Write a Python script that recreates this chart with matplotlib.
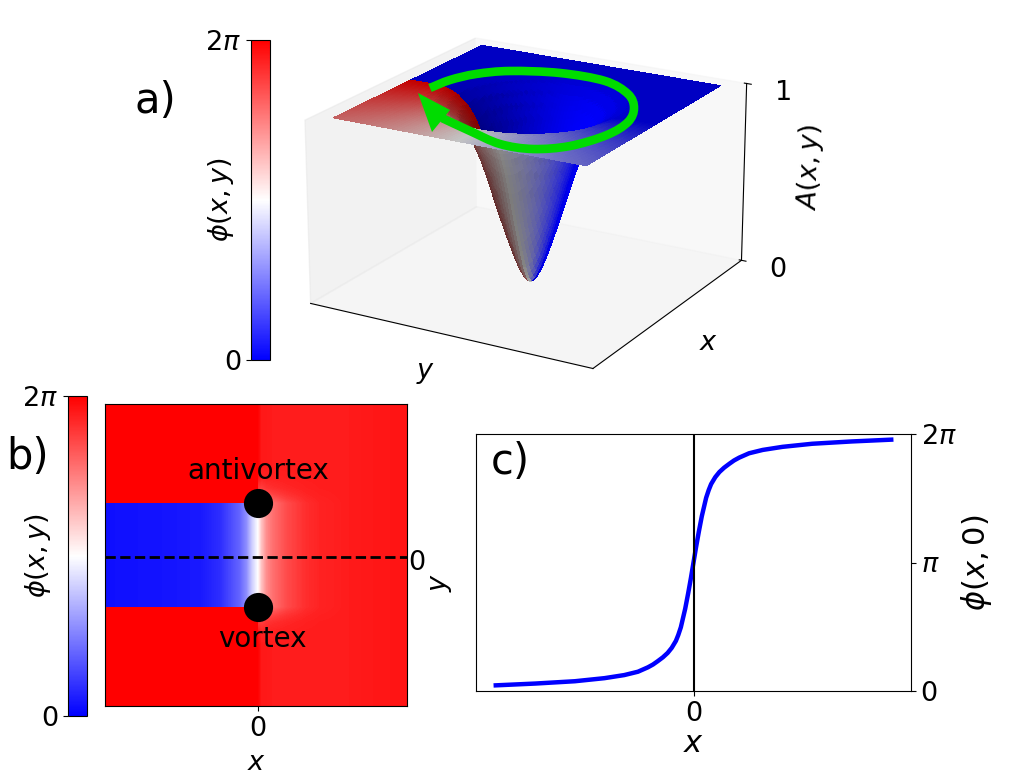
import numpy as np
import matplotlib
matplotlib.use("Agg")
import matplotlib.pyplot as plt
from matplotlib.cm import ScalarMappable
from matplotlib.colors import Normalize, LightSource
from matplotlib.path import Path
from matplotlib.patches import PathPatch

W, H = 1009, 775
TWO_PI = 2 * np.pi

# panel a: radial well profile and phase against direction
well_r = [0.0, 0.03, 0.06, 0.10, 0.14, 0.18, 0.22, 0.27, 0.31, 0.36, 0.41, 0.46, 0.52, 0.60, 0.68, 0.75, 1.5]
well_a = [0.0, 0.012, 0.045, 0.11, 0.19, 0.28, 0.37, 0.49, 0.59, 0.70, 0.79, 0.86, 0.92, 0.965, 0.99, 1.0, 1.0]
angle_deg = [-180, -90.01, -90, -45, 0, 45, 90, 180]
angle_phase = [0.0, 0.0, 1.0, 0.75, 0.5, 0.25, 0.0, 0.0]

# green arrow, picture pixels
arrow_px_x = [430, 450, 476, 510, 560, 605, 628, 634, 628, 607, 570, 533, 500, 470, 442]
arrow_px_y = [88, 80, 74, 71, 73, 81, 94, 108, 122, 135, 146, 149, 144, 131, 118]
head_px_x = [418, 432, 450]
head_px_y = [93, 132, 110]

# panel b: phase fraction against x, inside the vortex pair band and outside it
b_x = [-1.0, -0.6, -0.38, -0.25, -0.12, -0.075, -0.04, 0.0, 0.025, 0.057, 0.10, 0.19, 0.32, 0.41, 0.60, 0.80, 1.0]
b_band = [0.03, 0.04, 0.05, 0.09, 0.20, 0.28, 0.40, 0.50, 0.62, 0.72, 0.78, 0.85, 0.91, 0.93, 0.945, 0.955, 0.96]
b_outer = [1.0, 1.0, 1.0, 1.0, 1.0, 1.0, 1.0, 1.0, 0.95, 0.95, 0.945, 0.945, 0.945, 0.945, 0.945, 0.955, 0.96]
b_vortex_y = 0.345
b_fade_dy = [0.0, 0.03, 0.06, 0.10, 0.16, 0.25]
b_fade_w = [1.0, 0.70, 0.45, 0.22, 0.08, 0.0]
dot_x = [0.012, 0.012]
dot_y = [-0.345, 0.345]

# panel c: phi(x, 0)
c_x = [-1.0, -0.8, -0.6, -0.45, -0.35, -0.281, -0.231, -0.205, -0.181, -0.155, -0.131, -0.11, -0.089, -0.077, -0.064, -0.042, -0.027, -0.013, 0.0,
       0.013, 0.027, 0.042, 0.064, 0.077, 0.089, 0.11, 0.131, 0.155, 0.181, 0.205, 0.231, 0.281, 0.35, 0.45, 0.6, 0.8, 1.0]
c_frac = [0.022, 0.029, 0.038, 0.050, 0.062, 0.075, 0.092, 0.103, 0.116, 0.131, 0.148, 0.168, 0.195, 0.218, 0.248, 0.32, 0.38, 0.44, 0.50,
          0.56, 0.62, 0.68, 0.752, 0.782, 0.805, 0.832, 0.852, 0.869, 0.884, 0.897, 0.908, 0.925, 0.938, 0.950, 0.962, 0.971, 0.978]

plt.rcParams.update({"font.size": 19.5, "mathtext.default": "it"})
fig = plt.figure(figsize=(W / 100, H / 100), dpi=100)
norm = Normalize(0, TWO_PI)
cmap = plt.get_cmap("bwr")


def rect(x0, y0, x1, y1):
    return [x0 / W, 1 - y1 / H, (x1 - x0) / W, (y1 - y0) / H]


def colorbar(x0, y0, x1, y1, labelpad):
    cax = fig.add_axes(rect(x0, y0, x1, y1))
    cb = fig.colorbar(ScalarMappable(norm=norm, cmap=cmap), cax=cax, ticks=[0, TWO_PI])
    cb.ax.yaxis.set_ticks_position("left")
    cb.ax.yaxis.set_label_position("left")
    cb.ax.set_yticklabels(["0", r"$2\pi$"])
    cb.set_label(r"$\phi(x,y)$", fontsize=19.5, labelpad=labelpad)
    return cb


# panel a: a large square axes so the surface is not clipped; it is drawn first
ax3 = fig.add_axes(rect(171, -148, 871, 552), projection="3d")
ax3.patch.set_visible(False)
xs = np.linspace(-1, 1, 81)
X, Y = np.meshgrid(xs, xs)
R = np.hypot(X, Y)
A = np.interp(R, well_r, well_a)
TH = np.degrees(np.arctan2(Y, X))
PH = np.interp(TH, angle_deg, angle_phase)
ax3.plot_surface(X, Y, A, facecolors=cmap(PH), rstride=1, cstride=1, linewidth=0, antialiased=False,
                 lightsource=LightSource(azdeg=135, altdeg=19.47))
ax3.set_xlim(-1.14, 1.14)
ax3.set_ylim(-1.14, 1.14)
ax3.set_zlim(0, 1)
ax3.view_init(elev=20, azim=30)
ax3.set_proj_type("persp", focal_length=0.7)
ax3.set_box_aspect((4, 4, 2.4), zoom=0.68)
ax3.grid(False)
ax3.set_xticks([])
ax3.set_yticks([])
ax3.set_zticks([0, 1])
ax3.zaxis.set_ticks_position("upper")
ax3.zaxis.set_label_position("upper")
ax3.set_xlabel(r"$x$", fontsize=19.5, labelpad=13)
ax3.set_ylabel(r"$y$", fontsize=19.5, labelpad=12)
ax3.set_zlabel(r"$A(x,y)$", fontsize=19.5, labelpad=21)
ax3.tick_params(axis="z", labelsize=19.5, pad=15)

colorbar(251, 40, 270, 360, -22)

# panel b
colorbar(68, 396, 87, 716, -22)
axb = fig.add_axes(rect(105, 404, 407, 706))
gx = np.linspace(-1, 1, 302)
gy = np.linspace(-1, 1, 302)
GX, GY = np.meshgrid(gx, gy)
band = np.interp(GX - dot_x[0], b_x, b_band)
outer = np.interp(GX - dot_x[0], b_x, b_outer)
dy = np.clip(np.abs(GY) - b_vortex_y, 0, None)
w = np.interp(dy, b_fade_dy, b_fade_w)
w[GX < dot_x[0]] = 0
field = np.where(np.abs(GY) < b_vortex_y, band, w * band + (1 - w) * outer)
axb.imshow(field * TWO_PI, cmap=cmap, norm=norm, origin="lower", extent=[-1, 1, -1, 1], aspect="auto")
axb.axhline(-0.01, color="k", ls="--", lw=2)
for px, py in zip(dot_x, dot_y):
    axb.plot(px, py, "o", color="k", ms=21, mew=0, zorder=5)
axb.set_xlim(-1, 1)
axb.set_ylim(-1, 1)
axb.set_xticks([0.012])
axb.set_xticklabels(["0"])
axb.yaxis.tick_right()
axb.yaxis.set_label_position("right")
axb.set_yticks([-0.03])
axb.set_yticklabels(["0"])
axb.tick_params(axis="y", length=0, pad=1)
axb.set_xlabel(r"$x$", fontsize=19.5, labelpad=6)
axb.set_ylabel(r"$y$", fontsize=19.5)
axb.yaxis.set_label_coords(1.07, 0.41)

# panel c
axc = fig.add_axes(rect(476, 434, 911, 691))
axc.plot(c_x, np.array(c_frac) * TWO_PI, color="b", lw=3.2)
axc.axvline(0, color="k", lw=1.5)
axc.set_ylim(0, TWO_PI)
axc.set_xticks([0])
axc.set_xticklabels(["0"])
axc.yaxis.tick_right()
axc.yaxis.set_label_position("right")
axc.set_yticks([0, np.pi, TWO_PI])
axc.set_yticklabels(["0", r"$\pi$", r"$2\pi$"])
axc.set_xlabel(r"$x$", fontsize=22, labelpad=2)
axc.set_ylabel(r"$\phi(x,0)$", fontsize=22, labelpad=2)

# overlay in picture pixels: arrow and texts
ov = fig.add_axes([0, 0, 1, 1], zorder=20)
ov.set_xlim(0, W)
ov.set_ylim(H, 0)
ov.axis("off")
pts = np.column_stack([arrow_px_x, arrow_px_y]).astype(float)
verts = [pts[0]]
codes = [Path.MOVETO]
for i in range(len(pts) - 1):
    p0 = pts[max(i - 1, 0)]
    p1 = pts[i]
    p2 = pts[i + 1]
    p3 = pts[min(i + 2, len(pts) - 1)]
    verts += [p1 + (p2 - p0) / 6, p2 - (p3 - p1) / 6, p2]
    codes += [Path.CURVE4] * 3
ov.add_patch(PathPatch(Path(verts, codes), fill=False, edgecolor="#00dc00", lw=6.2, capstyle="butt", joinstyle="round"))
ov.fill(head_px_x, head_px_y, color="#00dc00", lw=0)
for s, tx, ty, fs in [("a)", 155, 101, 30), ("b)", 28, 457, 30), ("c)", 510, 462, 30),
                      ("antivortex", 258, 471, 20), ("vortex", 262, 639, 20)]:
    ov.text(tx, ty, s, fontsize=fs, ha="center", va="center")

fig.savefig("out.png", dpi=100)
